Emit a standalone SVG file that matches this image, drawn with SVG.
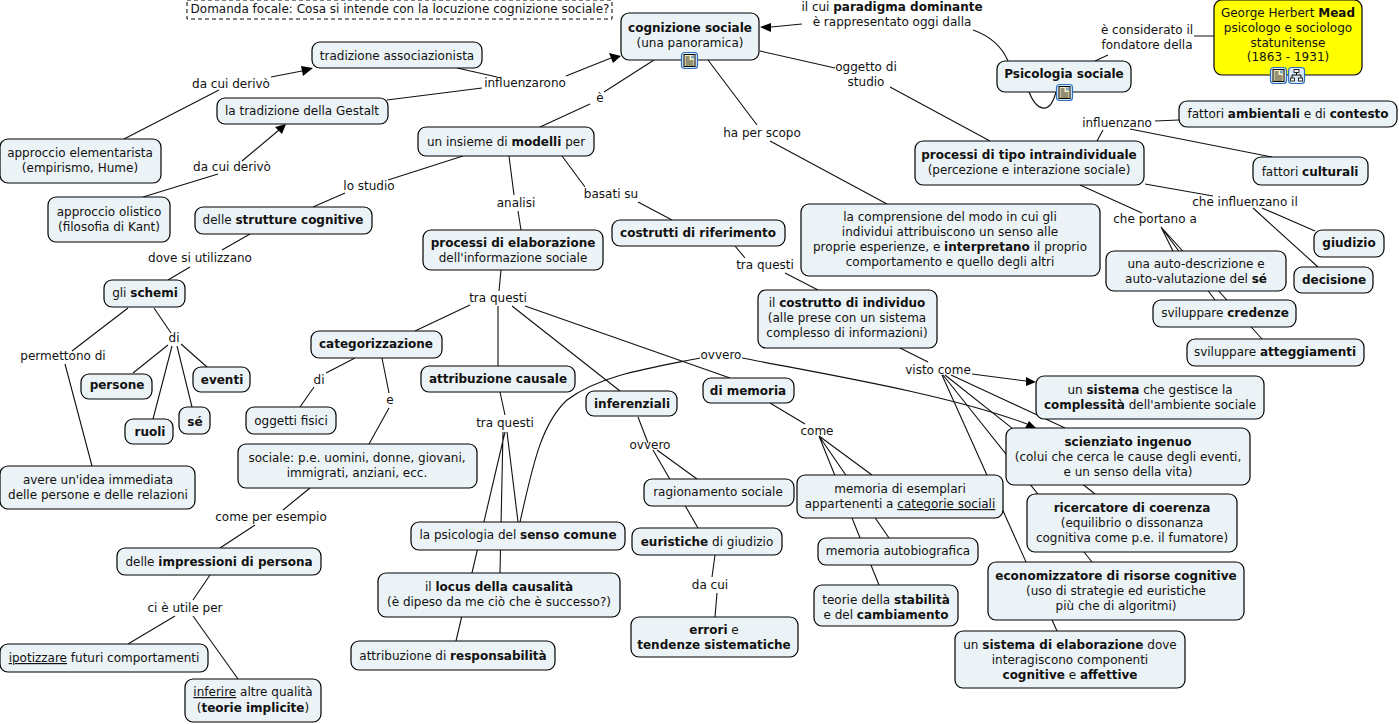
<svg xmlns="http://www.w3.org/2000/svg" width="1399" height="724" viewBox="0 0 1399 724">
<style>
text{font-family:"DejaVu Sans","Liberation Sans",sans-serif;font-size:12px;fill:#111;text-anchor:middle}
.b{font-weight:bold}
.u{text-decoration:underline}
.n{fill:#ecf3f6;stroke:#000;stroke-width:1.2}
.y{fill:#ffff00;stroke:#000;stroke-width:1.2}
.c{fill:none;stroke:#111;stroke-width:1.1}
.h{fill:#000;stroke:none}
.ib{fill:#dbe9f7;stroke:#2a6fc0;stroke-width:1.2}
.id{fill:#f7efc0;stroke:#000;stroke-width:1}
</style>
<defs>
<g id="doc"><rect class="ib" x="0.5" y="0.5" width="16" height="16" rx="3"/><rect class="id" x="3" y="2.5" width="11" height="12"/><path d="M4.5 5h4M4.5 7h4M4.5 9h8M4.5 11h8M4.5 13h8" stroke="#000" stroke-width="0.8"/><rect x="10" y="3.5" width="3" height="3" fill="#7fa8c8"/></g>
<g id="map"><rect class="ib" x="0.5" y="0.5" width="16" height="16" rx="3"/><path d="M8.5 5v3M4 11V8h9v3" fill="none" stroke="#000"/><rect x="6" y="2.5" width="5" height="3" fill="#fff" stroke="#000" stroke-width="0.8"/><rect x="2.5" y="11" width="4" height="3" fill="#fff" stroke="#000" stroke-width="0.8"/><rect x="10.5" y="11" width="4" height="3" fill="#fff" stroke="#000" stroke-width="0.8"/></g>
</defs>
<g id="connectors">
<path class="c" d="M124 139L219 90M271 77L302 71M143 197L218 174M242 161L279 130M457 68L497 77M387 100L482 88M566 76L611 58"/>
<path class="c" d="M654 60L604 92M590 104L540 127M708 60L757 125M770 141L887 204M760 51L835 68M890 87L990 141M802 24L771 27M973 30C990 36 1002 47 1008 61M1029 92C1037 112 1050 115 1056 92M1095 61L1108 55M1194 36L1214 36"/>
<path class="c" d="M1097 141L1103 130M1155 121L1179 120M1130 129L1272 157M1145 184L1213 196M1262 208L1315 231M1253 208L1318 267M1080 185L1142 213M1161 227L1173 251M1161 227L1215 300M1161 227L1262 339"/>
<path class="c" d="M463 156L388 180M345 193L313 207M509 156L514 195M518 211L521 230M562 156L585 187M638 202L672 220M250 234L222 250M190 267L168 280M128 308L72 351M65 364L92 466M154 308L171 333M168 345L133 373M172 346L153 419M177 346L192 407M181 344L207 367"/>
<path class="c" d="M501 270L499 291M470 305L415 331M498 306L498 366M512 306L620 391M525 306L730 378M355 358L326 373M314 387L300 407M382 358L389 393M389 408L369 444M310 488L283 510M255 525L220 548M210 575L193 600M175 616L128 644M193 616L238 679"/>
<path class="c" d="M500 392L505 415M505 432L456 641M503 432L500 573M507 432L518 522M520 522C532 470 540 425 567 400C600 375 650 368 700 358M742 358C830 375 950 395 1027 424"/>
<path class="c" d="M638 417L648 443M653 450L698 528M657 450L697 479M715 555L712 577M717 593L715 617M770 403L805 424M819 436L872 475M819 436L889 538M819 436L879 585M735 246L745 258M785 273L818 290M900 348L928 362M972 374L1026 381M951 375L1065 428M945 375L1095 494M943 375L1092 562M942 375L1057 631"/>
<path class="h" d="M313 68L301 66L303 76Z M286 124L275 127L282 134Z M621 56L609 53L613 63Z M760 27L771 23L771 32Z M1036 382L1026 377L1026 386Z M1037 429L1029 421L1025 428Z"/>
</g>
<g id="focus"><rect x="187" y="0" width="425" height="19" fill="#fff" stroke="#000" stroke-dasharray="4 3"/><text x="400" y="13">Domanda focale: Cosa si intende con la locuzione cognizione sociale?</text></g>
<g id="labels">
<text x="231" y="88">da cui derivò</text><text x="232" y="171">da cui derivò</text><text x="525" y="87">influenzarono</text><text x="600" y="102">è</text>
<text x="762" y="137">ha per scopo</text><text x="866" y="71">oggetto di</text><text x="866" y="86">studio</text>
<text x="892" y="11">il cui <tspan class="b">paradigma dominante</tspan></text><text x="892" y="26">è rappresentato oggi dalla</text>
<text x="1147" y="34">è considerato il</text><text x="1147" y="49">fondatore della</text><text x="1117" y="127">influenzano</text><text x="1245" y="206">che influenzano il</text><text x="1155" y="223">che portano a</text>
<text x="369" y="190">lo studio</text><text x="516" y="207">analisi</text><text x="611" y="198">basati su</text><text x="200" y="262">dove si utilizzano</text><text x="63" y="360">permettono di</text><text x="174" y="342">di</text><text x="498" y="302">tra questi</text><text x="319" y="384">di</text><text x="390" y="404">e</text><text x="271" y="521">come per esempio</text><text x="185" y="612">ci è utile per</text><text x="505" y="427">tra questi</text><text x="721" y="359">ovvero</text><text x="650" y="449">ovvero</text><text x="710" y="589">da cui</text><text x="817" y="435">come</text><text x="765" y="269">tra questi</text><text x="938" y="374">visto come</text>
</g>
<g id="n-cognizione"><rect class="n" x="621" y="13" width="138" height="47" rx="8"/><text x="690" y="32" class="b">cognizione sociale</text><text x="690" y="47">(una panoramica)</text><use href="#doc" x="681" y="52"/></g>
<g id="n-psicologia"><rect class="n" x="997" y="61" width="134" height="31" rx="8"/><text x="1064" y="78" class="b">Psicologia sociale</text><use href="#doc" x="1056" y="84"/></g>
<g id="n-mead"><rect class="y" x="1214" y="0" width="148" height="75" rx="8"/><text x="1288" y="17">George Herbert <tspan class="b">Mead</tspan></text><text x="1288" y="32">psicologo e sociologo</text><text x="1288" y="47">statunitense</text><text x="1288" y="61">(1863 - 1931)</text><use href="#doc" x="1270" y="67"/><use href="#map" x="1288" y="67"/></g>
<g id="n-assoc"><rect class="n" x="312" y="42" width="170" height="26" rx="8"/><text x="397" y="60">tradizione associazionista</text></g>
<g id="n-gestalt"><rect class="n" x="217" y="98" width="171" height="26" rx="8"/><text x="302" y="115">la tradizione della Gestalt</text></g>
<g id="n-elem"><rect class="n" x="0" y="139" width="161" height="44" rx="8"/><text x="80" y="157">approccio elementarista</text><text x="80" y="172">(empirismo, Hume)</text></g>
<g id="n-olist"><rect class="n" x="48" y="197" width="122" height="45" rx="8"/><text x="109" y="216">approccio olistico</text><text x="109" y="231">(filosofia di Kant)</text></g>
<g id="n-modelli"><rect class="n" x="418" y="127" width="176" height="29" rx="8"/><text x="506" y="146">un insieme di <tspan class="b">modelli</tspan> per</text></g>
<g id="n-strutture"><rect class="n" x="195" y="207" width="177" height="27" rx="8"/><text x="283" y="224">delle <tspan class="b">strutture cognitive</tspan></text></g>
<g id="n-elab"><rect class="n" x="423" y="230" width="180" height="40" rx="8"/><text x="513" y="247" class="b">processi di elaborazione</text><text x="513" y="262">dell'informazione sociale</text></g>
<g id="n-costrutti"><rect class="n" x="612" y="220" width="173" height="26" rx="8"/><text x="698" y="237" class="b">costrutti di riferimento</text></g>
<g id="n-compr"><rect class="n" x="801" y="204" width="299" height="72" rx="8"/><text x="950" y="221">la comprensione del modo in cui gli</text><text x="950" y="236">individui attribuiscono un senso alle</text><text x="950" y="251">proprie esperienze, e <tspan class="b">interpretano</tspan> il proprio</text><text x="950" y="266">comportamento e quello degli altri</text></g>
<g id="n-intra"><rect class="n" x="915" y="141" width="229" height="44" rx="8"/><text x="1029" y="159" class="b">processi di tipo intraindividuale</text><text x="1029" y="174">(percezione e interazione sociale)</text></g>
<g id="n-amb"><rect class="n" x="1179" y="101" width="218" height="26" rx="8"/><text x="1288" y="118">fattori <tspan class="b">ambientali</tspan> e di <tspan class="b">contesto</tspan></text></g>
<g id="n-cult"><rect class="n" x="1253" y="157" width="115" height="28" rx="8"/><text x="1310" y="176">fattori <tspan class="b">culturali</tspan></text></g>
<g id="n-giud"><rect class="n" x="1314" y="230" width="70" height="27" rx="8"/><text x="1349" y="247" class="b">giudizio</text></g>
<g id="n-dec"><rect class="n" x="1294" y="267" width="79" height="26" rx="8"/><text x="1334" y="284" class="b">decisione</text></g>
<g id="n-auto"><rect class="n" x="1106" y="251" width="180" height="40" rx="8"/><text x="1196" y="268">una auto-descrizione e</text><text x="1196" y="283">auto-valutazione del <tspan class="b">sé</tspan></text></g>
<g id="n-cred"><rect class="n" x="1153" y="300" width="143" height="27" rx="8"/><text x="1225" y="317">sviluppare <tspan class="b">credenze</tspan></text></g>
<g id="n-att"><rect class="n" x="1187" y="339" width="177" height="27" rx="8"/><text x="1275" y="356">sviluppare <tspan class="b">atteggiamenti</tspan></text></g>
<g id="n-schemi"><rect class="n" x="104" y="280" width="81" height="27" rx="8"/><text x="145" y="297">gli <tspan class="b">schemi</tspan></text></g>
<g id="n-persone"><rect class="n" x="81" y="374" width="71" height="25" rx="8"/><text x="117" y="389" class="b">persone</text></g>
<g id="n-eventi"><rect class="n" x="193" y="367" width="57" height="25" rx="8"/><text x="222" y="384" class="b">eventi</text></g>
<g id="n-ruoli"><rect class="n" x="125" y="419" width="48" height="25" rx="8"/><text x="150" y="436" class="b">ruoli</text></g>
<g id="n-se"><rect class="n" x="179" y="407" width="31" height="27" rx="8"/><text x="195" y="426" class="b">sé</text></g>
<g id="n-idea"><rect class="n" x="0" y="466" width="195" height="43" rx="8"/><text x="98" y="484">avere un'idea immediata</text><text x="98" y="499">delle persone e delle relazioni</text></g>
<g id="n-cat"><rect class="n" x="311" y="331" width="131" height="27" rx="8"/><text x="376" y="348" class="b">categorizzazione</text></g>
<g id="n-ogg"><rect class="n" x="246" y="407" width="90" height="27" rx="8"/><text x="291" y="425">oggetti fisici</text></g>
<g id="n-soc"><rect class="n" x="238" y="444" width="239" height="44" rx="8"/><text x="357" y="462">sociale: p.e. uomini, donne, giovani,</text><text x="357" y="477">immigrati, anziani, ecc.</text></g>
<g id="n-impr"><rect class="n" x="117" y="548" width="204" height="27" rx="8"/><text x="219" y="566">delle <tspan class="b">impressioni di persona</tspan></text></g>
<g id="n-ipot"><rect class="n" x="0" y="644" width="208" height="28" rx="8"/><text x="104" y="662"><tspan class="u">ipotizzare</tspan> futuri comportamenti</text></g>
<g id="n-inf"><rect class="n" x="185" y="679" width="136" height="43" rx="8"/><text x="253" y="696"><tspan class="u">inferire</tspan> altre qualità</text><text x="253" y="712">(<tspan class="b">teorie implicite</tspan>)</text></g>
<g id="n-attr"><rect class="n" x="421" y="366" width="154" height="26" rx="8"/><text x="498" y="383" class="b">attribuzione causale</text></g>
<g id="n-inferenz"><rect class="n" x="586" y="391" width="91" height="25" rx="8"/><text x="632" y="408" class="b">inferenziali</text></g>
<g id="n-mem"><rect class="n" x="703" y="378" width="91" height="25" rx="8"/><text x="748" y="395" class="b">di memoria</text></g>
<g id="n-senso"><rect class="n" x="411" y="522" width="214" height="28" rx="8"/><text x="518" y="539">la psicologia del <tspan class="b">senso comune</tspan></text></g>
<g id="n-locus"><rect class="n" x="378" y="573" width="242" height="44" rx="8"/><text x="499" y="591">il <tspan class="b">locus della causalità</tspan></text><text x="499" y="606">(è dipeso da me ciò che è successo?)</text></g>
<g id="n-resp"><rect class="n" x="351" y="641" width="204" height="29" rx="8"/><text x="453" y="660">attribuzione di <tspan class="b">responsabilità</tspan></text></g>
<g id="n-rag"><rect class="n" x="644" y="479" width="150" height="27" rx="8"/><text x="718" y="496">ragionamento sociale</text></g>
<g id="n-eur"><rect class="n" x="632" y="528" width="150" height="27" rx="8"/><text x="707" y="546"><tspan class="b">euristiche</tspan> di giudizio</text></g>
<g id="n-err"><rect class="n" x="631" y="617" width="167" height="40" rx="8"/><text x="714" y="634"><tspan class="b">errori</tspan> e</text><text x="714" y="649" class="b">tendenze sistematiche</text></g>
<g id="n-esempl"><rect class="n" x="797" y="475" width="206" height="43" rx="8"/><text x="900" y="493">memoria di esemplari</text><text x="900" y="508">appartenenti a <tspan class="u">categorie sociali</tspan></text></g>
<g id="n-auto2"><rect class="n" x="818" y="538" width="160" height="27" rx="8"/><text x="898" y="555">memoria autobiografica</text></g>
<g id="n-teorie"><rect class="n" x="814" y="585" width="144" height="41" rx="8"/><text x="886" y="604">teorie della <tspan class="b">stabilità</tspan></text><text x="886" y="619">e del <tspan class="b">cambiamento</tspan></text></g>
<g id="n-indiv"><rect class="n" x="758" y="290" width="179" height="58" rx="8"/><text x="847" y="307">il <tspan class="b">costrutto di individuo</tspan></text><text x="847" y="322">(alle prese con un sistema</text><text x="847" y="337">complesso di informazioni)</text></g>
<g id="n-sist"><rect class="n" x="1036" y="376" width="228" height="43" rx="8"/><text x="1150" y="394">un <tspan class="b">sistema</tspan> che gestisce la</text><text x="1150" y="409"><tspan class="b">complessità</tspan> dell'ambiente sociale</text></g>
<g id="n-sci"><rect class="n" x="1006" y="428" width="244" height="57" rx="8"/><text x="1128" y="446" class="b">scienziato ingenuo</text><text x="1128" y="461">(colui che cerca le cause degli eventi,</text><text x="1128" y="476">e un senso della vita)</text></g>
<g id="n-ric"><rect class="n" x="1027" y="494" width="210" height="58" rx="8"/><text x="1132" y="512" class="b">ricercatore di coerenza</text><text x="1132" y="527">(equilibrio o dissonanza</text><text x="1132" y="542">cognitiva come p.e. il fumatore)</text></g>
<g id="n-eco"><rect class="n" x="988" y="562" width="256" height="58" rx="8"/><text x="1116" y="580" class="b">economizzatore di risorse cognitive</text><text x="1116" y="595">(uso di strategie ed euristiche</text><text x="1116" y="610">più che di algoritmi)</text></g>
<g id="n-elabs"><rect class="n" x="955" y="631" width="230" height="57" rx="8"/><text x="1070" y="649">un <tspan class="b">sistema di elaborazione</tspan> dove</text><text x="1070" y="664">interagiscono componenti</text><text x="1070" y="679"><tspan class="b">cognitive</tspan> e <tspan class="b">affettive</tspan></text></g>
</svg>
